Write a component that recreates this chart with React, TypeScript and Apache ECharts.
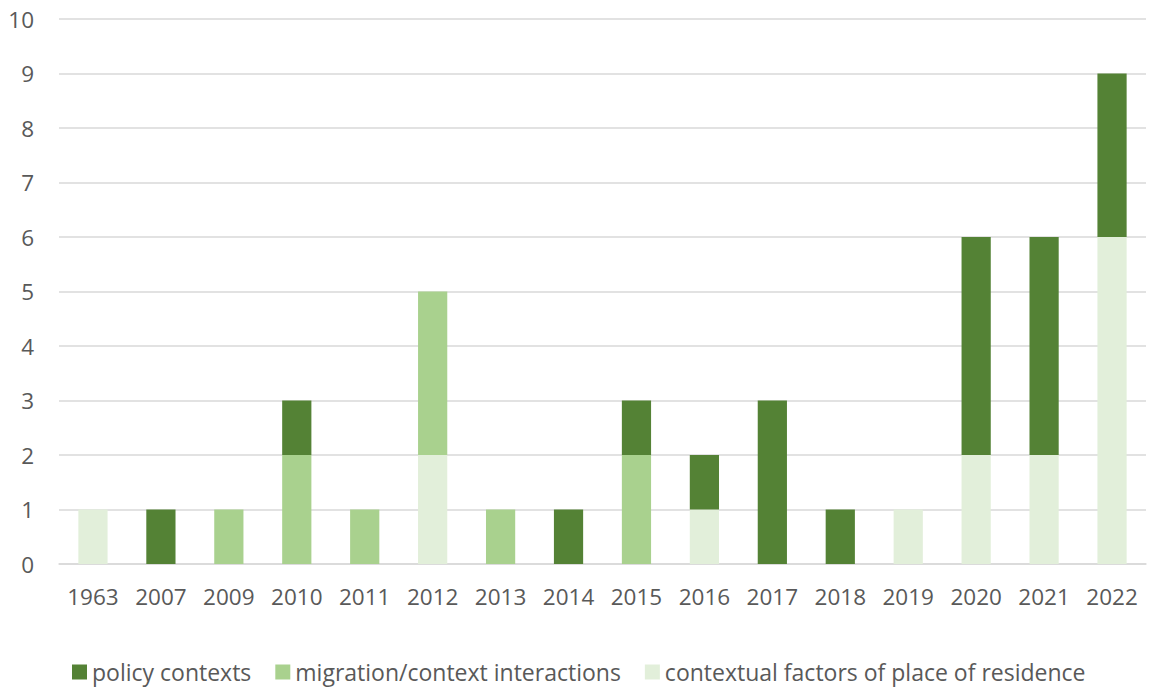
import React, { useEffect, useRef } from "react";
import * as echarts from "echarts";

const categories = ["1963", "2007", "2009", "2010", "2011", "2012", "2013", "2014", "2015", "2016", "2017", "2018", "2019", "2020", "2021", "2022"];
const policyContexts = [0, 1, 0, 1, 0, 0, 0, 1, 1, 1, 3, 1, 0, 4, 4, 3];
const migrationInteractions = [0, 0, 1, 2, 1, 3, 1, 0, 2, 0, 0, 0, 0, 0, 0, 0];
const contextualFactors = [1, 0, 0, 0, 0, 2, 0, 0, 0, 1, 0, 0, 1, 2, 2, 6];
const yTicks = { min: 0, max: 10, interval: 1 };

const FONT = "'Open Sans', 'Liberation Sans', sans-serif";
const TEXT = "#595959";

const toData = (arr: number[]) => arr.map((v) => (v === 0 ? null : v));

export default function App() {
  const ref = useRef<HTMLDivElement>(null);
  useEffect(() => {
    const chart = echarts.init(ref.current!, null, { renderer: "svg" });
    chart.setOption({
      animation: false,
      textStyle: { fontFamily: FONT },
      grid: { left: 59, right: 5, top: 19, bottom: 127, containLabel: false },
      legend: {
        top: 658,
        left: 72,
        padding: 0,
        itemWidth: 15,
        itemHeight: 15,
        itemGap: 24,
        icon: "rect",
        data: ["policy contexts", "migration/context interactions", "contextual factors of place of residence"],
        textStyle: { color: TEXT, fontSize: 23, lineHeight: 28, fontFamily: FONT, padding: [0, 0, 0, 0] },
      },
      xAxis: {
        type: "category",
        data: categories,
        axisLine: { lineStyle: { color: "#d9d9d9", width: 1.5 } },
        axisTick: { show: false },
        axisLabel: { color: TEXT, fontSize: 22.5, margin: 21, fontFamily: FONT },
      },
      yAxis: {
        type: "value",
        min: yTicks.min,
        max: yTicks.max,
        interval: yTicks.interval,
        axisLine: { show: false },
        axisTick: { show: false },
        splitLine: { lineStyle: { color: "#d9d9d9", width: 1.5 } },
        axisLabel: { color: TEXT, fontSize: 22.5, margin: 25, fontFamily: FONT },
      },
      series: [
        {
          name: "contextual factors of place of residence",
          type: "bar",
          stack: "total",
          barWidth: "43%",
          data: toData(contextualFactors),
          itemStyle: { color: "#E2EFDA" },
        },
        {
          name: "migration/context interactions",
          type: "bar",
          stack: "total",
          barWidth: "43%",
          data: toData(migrationInteractions),
          itemStyle: { color: "#A9D18E" },
        },
        {
          name: "policy contexts",
          type: "bar",
          stack: "total",
          barWidth: "43%",
          data: toData(policyContexts),
          itemStyle: { color: "#548235" },
        },
      ],
    });
    return () => chart.dispose();
  }, []);
  return <div ref={ref} style={{ width: 1151, height: 691, position: "absolute", left: 0, top: 0 }} />;
}
